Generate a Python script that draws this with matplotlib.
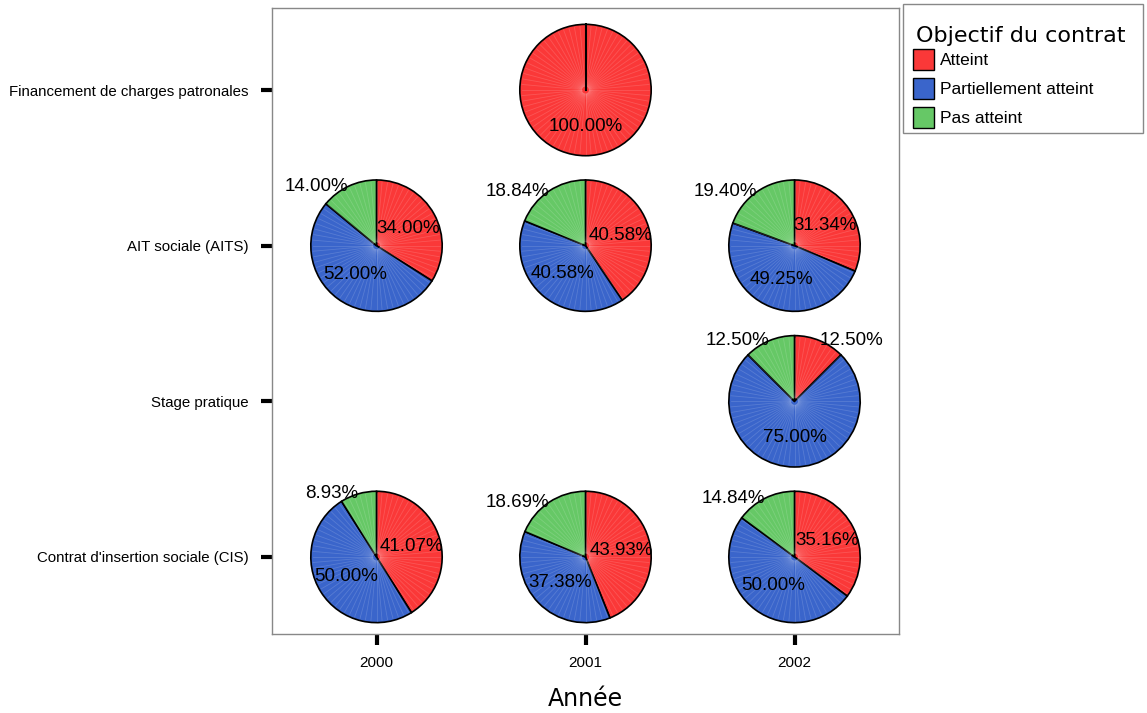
"""Pie grid: objectif du contrat par type et par annee."""

import numpy as np
import matplotlib.pyplot as plt
from matplotlib.patches import Patch, Rectangle

plt.rcParams["font.family"] = ["Liberation Sans", "DejaVu Sans"]

years = ["2000", "2001", "2002"]
types = [
    "Contrat d'insertion sociale (CIS)",
    "Stage pratique",
    "AIT sociale (AITS)",
    "Financement de charges patronales",
]
legend_labels = ["Atteint", "Partiellement atteint", "Pas atteint"]
colors = ["#fa3838", "#3a65cb", "#66c866"]

# rows follow `types` (bottom to top), columns follow `years`
atteint = [[41.07, 43.93, 35.16], [None, None, 12.50], [34.00, 40.58, 31.34], [None, 100.00, None]]
partiel = [[50.00, 37.38, 50.00], [None, None, 75.00], [52.00, 40.58, 49.25], [None, 0.0, None]]
pas_atteint = [[8.93, 18.69, 14.84], [None, None, 12.50], [14.00, 18.84, 19.40], [None, 0.0, None]]

W, H, DPI = 1147, 713, 100
fig = plt.figure(figsize=(W / DPI, H / DPI), dpi=DPI)
ax_l, ax_r, ax_t, ax_b = 272, 899, 8, 634
ax = fig.add_axes([ax_l / W, 1 - ax_b / H, (ax_r - ax_l) / W, (ax_b - ax_t) / H])
ax.set_xlim(-0.5, len(years) - 0.5)
ax.set_ylim(-0.495, len(types) - 0.473)
ax.set_xticks(range(len(years)))
ax.set_xticklabels(years, fontsize=11)
ax.set_yticks(range(len(types)))
ax.set_yticklabels(types, fontsize=10.8)
ax.tick_params(axis="both", length=8, width=3, color="black")
ax.tick_params(axis="y", pad=9)
ax.tick_params(axis="x", pad=8)
for s in ax.spines.values():
    s.set_color("#888888")
    s.set_linewidth(1)
ax.set_xlabel("Année", fontsize=17, labelpad=12, family="DejaVu Sans")

R = 67  # pie radius in pixels
y_span = ax.get_ylim()[1] - ax.get_ylim()[0]
rx = R * (len(years)) / (ax_r - ax_l)
ry = R * y_span / (ax_b - ax_t)

for i in range(len(types)):
    for j in range(len(years)):
        if atteint[i][j] is None:
            continue
        vals = [atteint[i][j], partiel[i][j], pas_atteint[i][j]]
        keep = [k for k, v in enumerate(vals) if v > 0]
        v = [vals[k] for k in keep]
        c = [colors[k] for k in keep]
        pa = ax.inset_axes([j - rx, i - ry, 2 * rx, 2 * ry], transform=ax.transData)
        wedges, _ = pa.pie(
            v, colors=c, startangle=90, counterclock=False, radius=1,
            wedgeprops=dict(edgecolor="black", linewidth=1.2),
        )
        # light radial streaks of the original rendering
        for a in np.arange(0, 360, 5):
            t = np.deg2rad(a)
            pa.plot([0.06 * np.cos(t), 0.97 * np.cos(t)], [0.06 * np.sin(t), 0.97 * np.sin(t)],
                    color="white", alpha=0.15, lw=0.6, zorder=3)
        if len(v) == 1:
            pa.plot([0, 0], [0, 1], color="black", lw=1.5, zorder=4)
        cum = 0
        for val in v:
            mid = np.deg2rad(90 - 3.6 * (cum + val / 2))
            cum += val
            txt = f"{val:.2f}%"
            if val >= 25:
                pa.text(0.55 * np.cos(mid), 0.55 * np.sin(mid), txt,
                        ha="center", va="center", fontsize=13.5, zorder=5)
            else:
                pa.text(np.cos(mid), np.sin(mid), txt,
                        ha="right" if np.cos(mid) < 0 else "left",
                        va="center", fontsize=13.5, zorder=5)
        pa.set_xlim(-1.02, 1.02)
        pa.set_ylim(-1.02, 1.02)
        pa.set_axis_off()

# legend: box, title and entries placed separately
fig.patches.append(Rectangle((903 / W, 1 - 133 / H), 240 / W, 129 / H,
                             transform=fig.transFigure, fill=False,
                             edgecolor="#888888", linewidth=1))
fig.text(916 / W, 1 - 36 / H, "Objectif du contrat", fontsize=16,
         family="DejaVu Sans", ha="left", va="center")
handles = [Patch(facecolor=col, edgecolor="black", label=lab)
           for col, lab in zip(colors, legend_labels)]
leg = fig.legend(
    handles=handles, loc="upper left", bbox_to_anchor=(913 / W, 1 - 49 / H),
    borderaxespad=0, borderpad=0, fontsize=12.5, frameon=False,
    handlelength=1.2, handleheight=1.5, handletextpad=0.35, labelspacing=0.45,
)

fig.savefig("out.png", dpi=DPI)
